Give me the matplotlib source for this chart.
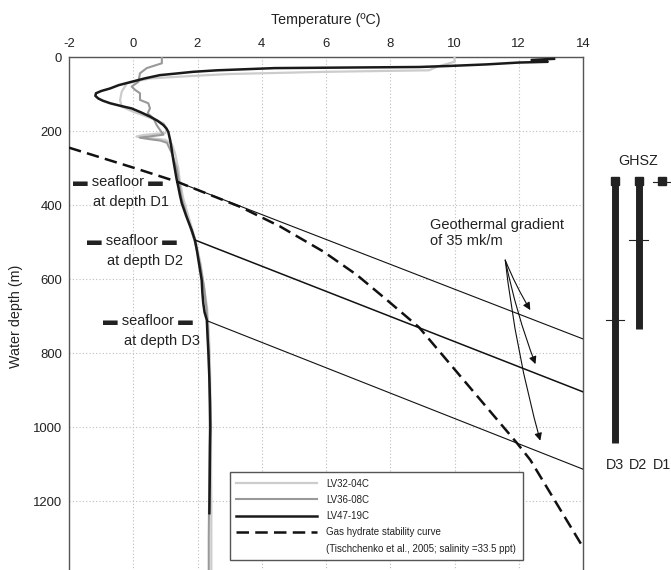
import matplotlib
matplotlib.use('Agg')
import matplotlib.pyplot as plt
from matplotlib import font_manager
from matplotlib.lines import Line2D

# ---------------- data ----------------
x_ticks = [-2, 0, 2, 4, 6, 8, 10, 12, 14]
y_ticks = [0, 200, 400, 600, 800, 1000, 1200, 1400]

lv47_depth = [5, 8, 13, 15, 20, 24, 27, 30, 33, 36, 40, 45, 49, 58, 67, 76, 85, 92, 98, 105,
              112, 118, 125, 132, 139, 150, 161, 172, 184, 193, 202, 225, 251, 280, 305, 330,
              350, 372, 395, 430, 468, 495, 522, 560, 603, 635, 666, 690, 711, 750, 801, 870,
              936, 1000, 1053, 1150, 1233]
lv47_temp = [13.1, 12.4, 12.9, 12.0, 11.0, 9.9, 8.9, 4.4, 3.5, 2.6, 1.87, 1.3, 0.83, 0.35, -0.05,
             -0.45, -0.72, -1.0, -1.16, -1.18, -1.09, -0.95, -0.72, -0.4, -0.05, 0.25, 0.52, 0.75,
             0.94, 1.03, 1.09, 1.15, 1.2, 1.25, 1.3, 1.35, 1.4, 1.45, 1.51, 1.65, 1.82, 1.92, 1.98,
             2.05, 2.13, 2.15, 2.18, 2.22, 2.29, 2.31, 2.34, 2.37, 2.39, 2.4, 2.39, 2.38, 2.37]

lv32_depth = [0, 13, 25, 36, 40, 46, 51, 58, 71, 94, 116, 134, 148, 161, 179, 195, 205, 211,
              215, 219, 224, 235, 260, 300, 335, 380, 440, 500, 560, 620, 680, 740, 800, 900,
              1000, 1100, 1200, 1300, 1400]
lv32_temp = [10.0, 10.0, 9.5, 9.2, 6.0, 3.0, 1.87, 0.52, -0.2, -0.36, -0.41, -0.36, 0.0, 0.42,
             0.94, 1.05, 1.0, 0.3, 0.1, 0.5, 1.0, 1.2, 1.3, 1.4, 1.45, 1.55, 1.75, 1.95, 2.1, 2.2,
             2.3, 2.35, 2.38, 2.4, 2.42, 2.42, 2.43, 2.43, 2.43]

lv36_depth = [0, 17, 25, 30, 44, 67, 80, 89, 98, 116, 125, 139, 152, 166, 184, 197, 210, 218,
              222, 226, 232, 260, 300, 335, 380, 440, 500, 560, 620, 680, 740, 800, 900, 1000,
              1100, 1200, 1300, 1400]
lv36_temp = [0.89, 0.89, 0.6, 0.42, 0.21, 0.16, -0.05, 0.06, 0.21, 0.21, 0.47, 0.52, 0.45, 0.63,
             0.73, 0.83, 0.94, 0.2, 0.5, 0.85, 1.05, 1.2, 1.35, 1.42, 1.5, 1.7, 1.92, 2.08, 2.2,
             2.28, 2.32, 2.35, 2.37, 2.38, 2.37, 2.36, 2.35, 2.35]

stab_temp = [-2.0, 0.0, 1.36, 3.33, 4.57, 5.92, 6.96, 7.9, 8.9, 10.4, 11.95, 12.36, 14.0]
stab_depth = [245, 299, 337, 405, 458, 526, 589, 657, 731, 885, 1044, 1089, 1325]

grad_start_temp = [1.36, 1.93, 2.30]
grad_start_depth = [337, 495, 713]
grad_end_temp = [14.0, 14.0, 14.0]
grad_end_depth = [762, 905, 1114]

seafloor_names = ['D1', 'D2', 'D3']
seafloor_depth = [337, 496, 713]

ghsz_names = ['D3', 'D2', 'D1']
ghsz_top = [327, 327, 327]
ghsz_bottom = [1043, 735, 346]
ghsz_seafloor = [711, 495, 338]

series_names = ['LV32-04C', 'LV36-08C', 'LV47-19C']
series_colors = ['#cccccc', '#999999', '#1a1a1a']

# ---------------- fonts ----------------
names = {f.name for f in font_manager.fontManager.ttflist}
if 'Liberation Sans Narrow' in names:
    FONT, k = 'Liberation Sans Narrow', 1.0
else:
    FONT, k = 'Liberation Sans', 0.82
plt.rcParams['font.family'] = [FONT, 'DejaVu Sans']
plt.rcParams['axes.unicode_minus'] = False

TXT = '#222222'
fig = plt.figure(figsize=(6.71, 5.70), dpi=100)
W, H = 671.0, 570.0
ax_l, ax_r, ax_t, ax_b = 69, 583, 57, 575
ax = fig.add_axes([ax_l / W, 1 - ax_b / H, (ax_r - ax_l) / W, (ax_b - ax_t) / H])

ax.set_xlim(-2, 14)
ax.set_ylim(1400, 0)
ax.xaxis.tick_top()
ax.xaxis.set_label_position('top')
ax.set_xticks(x_ticks)
ax.set_yticks(y_ticks)
ax.tick_params(length=0, labelsize=11.5 * k, colors=TXT, pad=5)
ax.grid(True, linestyle=(0, (1, 2)), color='#bdbdbd', lw=0.8)
ax.set_axisbelow(True)
for s in ax.spines.values():
    s.set_color('#555555')
    s.set_linewidth(1.0)
ax.set_xlabel('Temperature (ºC)', fontsize=12.5 * k, color=TXT, labelpad=10)
ax.set_ylabel('Water depth (m)', fontsize=12.5 * k, color=TXT, labelpad=7)

# profiles
ax.plot(lv32_temp, lv32_depth, color=series_colors[0], lw=1.6, zorder=3)
ax.plot(lv36_temp, lv36_depth, color=series_colors[1], lw=1.5, zorder=3)
ax.plot(lv47_temp, lv47_depth, color=series_colors[2], lw=1.8, zorder=4)

# stability curve
ax.plot(stab_temp, stab_depth, color='#111111', lw=1.8, dashes=(5, 2.5), zorder=5)

# geothermal gradient lines
for i in range(3):
    ax.plot([grad_start_temp[i], grad_end_temp[i]], [grad_start_depth[i], grad_end_depth[i]],
            color='#111111', lw=1.1 if i == 1 else 0.8, zorder=4)

# seafloor labels
lab_dash_T = [-1.885, -1.45, -0.94]
lab_text_T = [-1.25, -0.81, -0.29]
for i in range(3):
    ax.text(lab_dash_T[i], seafloor_depth[i], '\u25AC seafloor \u25AC', fontsize=12.8 * k,
            color=TXT, ha='left', va='center', zorder=6)
    ax.text(lab_text_T[i], seafloor_depth[i] + 54, 'at depth ' + seafloor_names[i],
            fontsize=12.8 * k, color=TXT, ha='left', va='center', zorder=6)

# geothermal text + arrows
ax.text(9.24, 476, 'Geothermal gradient\nof 35 mk/m', fontsize=12.8 * k, color=TXT,
        ha='left', va='center', linespacing=1.15)
arrow_heads = [(12.36, 684), (12.52, 830), (12.67, 1037)]
for (hx, hy) in arrow_heads:
    ax.annotate('', xy=(hx, hy), xytext=(11.58, 549),
                arrowprops=dict(arrowstyle='-|>', lw=0.8, color='#111111', mutation_scale=11,
                                shrinkA=0, shrinkB=0, connectionstyle='arc3,rad=0.04'))

# legend
lf = 8.6 * k
handles = [Line2D([], [], color=series_colors[0], lw=1.6),
           Line2D([], [], color=series_colors[1], lw=1.5),
           Line2D([], [], color=series_colors[2], lw=1.8),
           Line2D([], [], color='#111111', lw=1.8, dashes=(5, 2.5)),
           Line2D([], [], color='none', lw=0)]
labels = series_names + ['Gas hydrate stability curve',
                         '(Tischchenko et al., 2005; salinity =33.5 ppt)']
leg = ax.legend(handles, labels, loc='lower left', bbox_to_anchor=(0.313, 0.029),
                borderaxespad=0, fontsize=lf, handlelength=8.2, handletextpad=1.0,
                labelspacing=0.64, borderpad=0.65, fancybox=False, framealpha=1)
leg.get_frame().set_edgecolor('#555555')
leg.get_frame().set_linewidth(1.0)
for t in leg.get_texts():
    t.set_color(TXT)
leg.set_zorder(10)

# GHSZ panel
gx0 = 1 - 15 / 23.5
axg = fig.add_axes([600 / W, 1 - ax_b / H, 71 / W, (ax_b - ax_t) / H])
axg.set_xlim(gx0, gx0 + 71 / 23.5)
axg.set_ylim(1400, 0)
axg.axis('off')
for i in range(3):
    xi = i + 1
    axg.plot([xi, xi], [ghsz_top[i], ghsz_bottom[i]], color='#222222', lw=5,
             solid_capstyle='butt')
    axg.plot([xi], [336], marker='s', ms=6, color='#222222')
    axg.plot([xi - 0.4, xi + 0.4], [ghsz_seafloor[i], ghsz_seafloor[i]], color='#222222', lw=0.8)
    axg.text(xi, ghsz_bottom[0] + 60, ghsz_names[i], fontsize=12.5 * k, color=TXT,
             ha='center', va='center')
axg.text(2, 280, 'GHSZ', fontsize=12.5 * k, color=TXT, ha='center', va='center')

fig.savefig('out.png', dpi=100)
